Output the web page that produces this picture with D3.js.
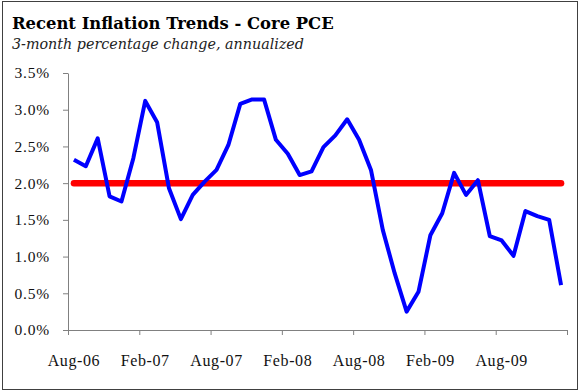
<!DOCTYPE html>
<html>
<head>
<meta charset="utf-8">
<script src="https://cdn.jsdelivr.net/npm/d3@7"></script>
<style>
  html, body { margin: 0; padding: 0; background: #fff; }
  svg { display: block; }
</style>
</head>
<body>
<svg id="chart" width="580" height="392"></svg>
<script>
// ---- data ----
const months = [
  "Aug-06","Sep-06","Oct-06","Nov-06","Dec-06","Jan-07",
  "Feb-07","Mar-07","Apr-07","May-07","Jun-07","Jul-07",
  "Aug-07","Sep-07","Oct-07","Nov-07","Dec-07","Jan-08",
  "Feb-08","Mar-08","Apr-08","May-08","Jun-08","Jul-08",
  "Aug-08","Sep-08","Oct-08","Nov-08","Dec-08","Jan-09",
  "Feb-09","Mar-09","Apr-09","May-09","Jun-09","Jul-09",
  "Aug-09","Sep-09","Oct-09","Nov-09","Dec-09","Jan-10"
];
const corePCE = [
  2.32, 2.23, 2.61, 1.82, 1.75, 2.34,
  3.12, 2.83, 1.93, 1.51, 1.84, 2.02,
  2.18, 2.52, 3.08, 3.14, 3.14, 2.59,
  2.40, 2.11, 2.16, 2.49, 2.65, 2.87,
  2.59, 2.18, 1.36, 0.77, 0.25, 0.52,
  1.29, 1.59, 2.14, 1.84, 2.04, 1.28,
  1.22, 1.01, 1.62, 1.55, 1.50, 0.61
];
const target = months.map(() => 2.0);
const yTicks = [0, 0.5, 1.0, 1.5, 2.0, 2.5, 3.0, 3.5];
const xLabels = ["Aug-06","Feb-07","Aug-07","Feb-08","Aug-08","Feb-09","Aug-09"];
const titleText = "Recent Inflation Trends - Core PCE";
const subtitleText = "3-month percentage change, annualized";

// ---- layout ----
const svg = d3.select("#chart");
const mLeft = 68, mRight = 567, mTop = 73, mBottom = 330;

svg.append("rect")
  .attr("x", 2.5).attr("y", 1.5).attr("width", 575).attr("height", 388)
  .attr("fill", "#fff").attr("stroke", "#404040").attr("stroke-width", 1);

svg.append("text")
  .attr("x", 12).attr("y", 29)
  .attr("font-family", "'DejaVu Serif', serif")
  .attr("font-weight", "bold")
  .attr("font-size", 16.4)
  .attr("fill", "#000")
  .text(titleText);

svg.append("text")
  .attr("x", 12).attr("y", 49)
  .attr("font-family", "'DejaVu Serif', serif")
  .attr("font-style", "italic")
  .attr("font-size", 14.3)
  .attr("fill", "#222")
  .text(subtitleText);

const x = d3.scaleBand().domain(months).range([mLeft, mRight]).padding(0);
const xTickScale = d3.scaleLinear().domain([0, months.length]).range([mLeft, mRight]);
const y = d3.scaleLinear().domain([0, 3.5]).range([mBottom, mTop]);

// y axis
const yAxis = svg.append("g")
  .attr("transform", `translate(${mLeft},0)`)
  .call(d3.axisLeft(y).tickValues(yTicks).tickSize(5).tickSizeOuter(0)
        .tickFormat(d => d.toFixed(1) + "%"));
yAxis.select(".domain").attr("stroke", "#808080");
yAxis.selectAll(".tick line").attr("stroke", "#808080");
yAxis.selectAll(".tick text")
  .attr("x", -18)
  .attr("font-family", "'Liberation Serif', serif")
  .attr("font-size", 15.5)
  .attr("letter-spacing", 0.8)
  .attr("fill", "#111");

// x axis ticks (between categories, every 6 months)
const xTickVals = d3.range(0, months.length + 1, 6);
const xAxis = svg.append("g")
  .attr("transform", `translate(0,${mBottom})`)
  .call(d3.axisBottom(xTickScale).tickValues(xTickVals).tickSize(5).tickSizeOuter(0)
        .tickFormat(""));
xAxis.select(".domain").attr("stroke", "#808080");
xAxis.selectAll(".tick line").attr("stroke", "#808080");

// x labels at category centres
const xLab = svg.append("g")
  .attr("transform", `translate(0,${mBottom})`)
  .call(d3.axisBottom(x).tickValues(xLabels).tickSize(0).tickPadding(25));
xLab.select(".domain").remove();
xLab.selectAll(".tick text")
  .attr("font-family", "'Liberation Serif', serif")
  .attr("font-size", 16)
  .attr("letter-spacing", 0.6)
  .attr("fill", "#111");

const cx = d => x(d) + x.bandwidth() / 2;

// target line
svg.append("path")
  .datum(months.map((m, i) => [m, target[i]]))
  .attr("fill", "none")
  .attr("stroke", "#ff0000")
  .attr("stroke-width", 6.5)
  .attr("stroke-linecap", "round")
  .attr("d", d3.line().x(d => cx(d[0])).y(d => y(d[1])));

// core PCE line
svg.append("path")
  .datum(months.map((m, i) => [m, corePCE[i]]))
  .attr("fill", "none")
  .attr("stroke", "#0000ff")
  .attr("stroke-width", 4)
  .attr("stroke-linejoin", "round")
  .attr("d", d3.line().x(d => cx(d[0])).y(d => y(d[1])));
</script>
</body>
</html>
